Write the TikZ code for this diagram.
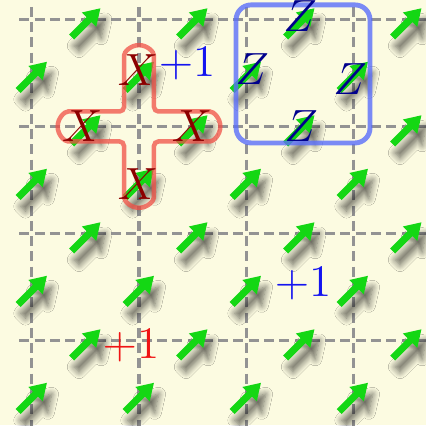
\documentclass[tikz,border=0pt]{standalone}
\usetikzlibrary{shadows.blur}
\definecolor{bg}{RGB}{252,251,225}
\definecolor{arrgreen}{RGB}{20,215,20}
\definecolor{xred}{RGB}{140,0,0}
\definecolor{zblue}{RGB}{0,0,140}
\definecolor{plusblue}{RGB}{20,20,240}
\definecolor{plusred}{RGB}{240,20,20}
\definecolor{crossred}{RGB}{240,80,70}
\definecolor{boxblue}{RGB}{90,110,250}
\tikzset{
  gridline/.style={gray!85, line width=0.8pt, dash pattern=on 2.66pt off 1.405pt},
  qarrow/.pic={\fill[arrgreen, blur shadow={shadow xshift=1.3pt, shadow yshift=-3pt, shadow blur steps=8, shadow opacity=60, shadow blur radius=1.8pt}]
     (-0.1110,-0.1577) -- (0.0516,0.0049) -- (0.0955,-0.0389) -- (0.1343,0.1343)
     -- (-0.0389,0.0955) -- (0.0049,0.0516) -- (-0.1577,-0.1110) -- cycle;},
  crossline/.style={draw=crossred, draw opacity=0.75, line width=1.2pt, rounded corners=1.2pt},
  zbox/.style={draw=boxblue, draw opacity=0.8, line width=1.3pt, rounded corners=0.14cm},
  xlab/.style={text=xred, font=\large, inner sep=0pt},
  zlab/.style={text=zblue, font=\large, inner sep=0pt},
  pluslab/.style={font=\large, inner sep=0pt},
}
\begin{document}
\begin{tikzpicture}
\useasboundingbox (-0.299,0.182) rectangle (3.682,-3.790);
\clip (-0.299,0.182) rectangle (3.682,-3.790);
\fill[bg] (-0.299,0.182) rectangle (3.682,-3.790);
% grid
\foreach \k in {0,...,3} {
  \draw[gridline] (-0.1181,-\k) -- (3.9,-\k);
  \draw[gridline] (\k,0.1181) -- (\k,-3.9);
}
% arrows
\foreach \i in {0,...,3} {
  \foreach \j in {0,...,3} {
    \pic at (\i+0.505,-\j-0.03) {qarrow};
    \pic at (\i+0.005,-\j-0.53) {qarrow};
  }
}
% star operator outline
\draw[crossline] (1.14,-0.86) -- (1.62,-0.86) arc[start angle=90,end angle=-90,radius=0.14]
  -- (1.14,-1.14) -- (1.14,-1.62) arc[start angle=0,end angle=-180,radius=0.14]
  -- (0.86,-1.14) -- (0.38,-1.14) arc[start angle=270,end angle=90,radius=0.14]
  -- (0.86,-0.86) -- (0.86,-0.38) arc[start angle=180,end angle=0,radius=0.14] -- cycle;
% plaquette outline
\draw[zbox] (1.907,0.136) rectangle (3.159,-1.154);
% X labels
\node[xlab] (xt) at (0.991,-0.47) {$X$};
\node[xlab] (xl) at (0.47,-1.0) {$X$};
\node[xlab] (xr) at (1.495,-1.0) {$X$};
\node[xlab] (xb) at (0.991,-1.54) {$X$};
% Z labels
\node[zlab] (zt) at (2.505,0.035) {$Z$};
\node[zlab] (zl) at (2.056,-0.463) {$Z$};
\node[zlab] (zr) at (2.972,-0.556) {$Z$};
\node[zlab] (zb) at (2.514,-0.995) {$Z$};
% +1 labels
\node[pluslab, text=plusblue] (p1) at (1.449,-0.416) {$+1$};
\node[pluslab, text=plusblue] (p2) at (2.533,-2.472) {$+1$};
\node[pluslab, text=plusred] (p3) at (0.925,-3.051) {$+1$};
\end{tikzpicture}
\end{document}
